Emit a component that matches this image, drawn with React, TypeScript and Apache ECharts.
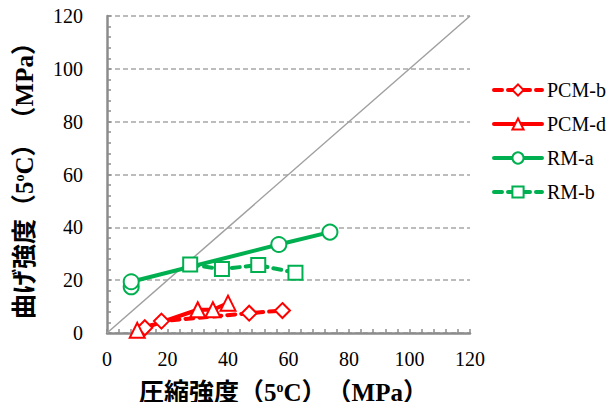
import React, { useEffect, useRef } from "react";
import * as echarts from "echarts";

const seriesNames = ["PCM-b", "PCM-d", "RM-a", "RM-b"];
const pcmBX = [12.5, 18, 47, 58];
const pcmBY = [2, 4.5, 7.5, 8.5];
const pcmDX = [10, 30, 35, 40];
const pcmDY = [1, 8.8, 8.8, 11.3];
const rmAX = [8, 8, 56.8, 73.7];
const rmAY = [17.5, 19.4, 33.5, 38.2];
const rmBX = [27.5, 38, 50, 62.3];
const rmBY = [25.9, 24.2, 25.7, 22.8];
const diagX = [0, 120];
const diagY = [0, 120];
const axisMin = 0;
const axisMax = 120;
const axisStep = 20;

const RED = "#ff0000";
const GREEN = "#00b050";
const SERIF = "'Liberation Serif', 'Noto Sans CJK JP', serif";

const zip = (xs: number[], ys: number[]) => xs.map((x, i) => [x, ys[i]]);

export default function App() {
  const ref = useRef<HTMLDivElement>(null);
  useEffect(() => {
    if (!ref.current) return;
    const chart = echarts.init(ref.current, null, { renderer: "svg" });
    const nameRich = {
      a: { fontSize: 25, fontWeight: "bold", fontFamily: SERIF, color: "#000" },
      s: { fontSize: 14, fontWeight: "bold", fontFamily: SERIF, color: "#000", padding: [0, 0, 11, 0] },
    };
    const axisCommon = {
      type: "value",
      min: axisMin,
      max: axisMax,
      interval: axisStep,
      nameLocation: "middle",
      axisLine: { show: true, lineStyle: { color: "#8c8c8c", width: 2.5 } },
      axisTick: { show: true, inside: true, length: 4, lineStyle: { color: "#8c8c8c", width: 1.5 } },
      minorTick: { show: true, splitNumber: 5, length: 4, lineStyle: { color: "#8c8c8c", width: 1.5 } },
      axisLabel: { fontFamily: SERIF, fontSize: 20, color: "#000" },
    };
    const lineSeries = (
      name: string,
      xs: number[],
      ys: number[],
      color: string,
      symbol: string,
      size: number,
      dashed: boolean
    ) => ({
      name,
      type: "line",
      data: zip(xs, ys),
      symbol,
      symbolSize: size,
      showSymbol: true,
      itemStyle: { color, borderWidth: 1.5 },
      lineStyle: {
        color,
        width: 4,
        type: dashed ? [8, 6] : "solid",
        cap: "round",
      },
      z: 3,
    });
    chart.setOption({
      animation: false,
      grid: { left: 107, right: 144, top: 16, bottom: 75 },
      legend: {
        orient: "vertical",
        left: 487,
        top: 75,
        itemWidth: 48,
        itemHeight: 14,
        itemGap: 14,
        data: seriesNames,
        lineStyle: { width: 4 },
        textStyle: { fontFamily: SERIF, fontSize: 20, color: "#000" },
      },
      xAxis: {
        ...axisCommon,
        name: "{a|圧縮強度（5}{s|o}{a|C）　（MPa）}",
        nameGap: 47,
        nameTextStyle: { rich: nameRich, padding: [0, 10, 0, 0] },
        splitLine: { show: false },
        axisLabel: { ...axisCommon.axisLabel, margin: 16 },
      },
      yAxis: {
        ...axisCommon,
        name: "{a|曲げ強度（5}{s|o}{a|C）　（MPa）}",
        nameGap: 70,
        nameTextStyle: { rich: nameRich },
        splitLine: { show: true, lineStyle: { color: "#a6a6a6", width: 1.5, type: [5, 3] } },
        axisLabel: { ...axisCommon.axisLabel, margin: 24 },
      },
      series: [
        {
          name: "diag",
          type: "line",
          data: zip(diagX, diagY),
          symbol: "none",
          silent: true,
          lineStyle: { color: "#a0a0a0", width: 1.5 },
          z: 1,
        },
        lineSeries("PCM-b", pcmBX, pcmBY, RED, "emptyDiamond", 15, true),
        lineSeries("PCM-d", pcmDX, pcmDY, RED, "emptyTriangle", 15, false),
        lineSeries("RM-a", rmAX, rmAY, GREEN, "emptyCircle", 15, false),
        lineSeries("RM-b", rmBX, rmBY, GREEN, "emptyRect", 14, true),
      ],
    });
    return () => chart.dispose();
  }, []);
  return <div ref={ref} style={{ width: 614, height: 410, margin: -8 }} />;
}
